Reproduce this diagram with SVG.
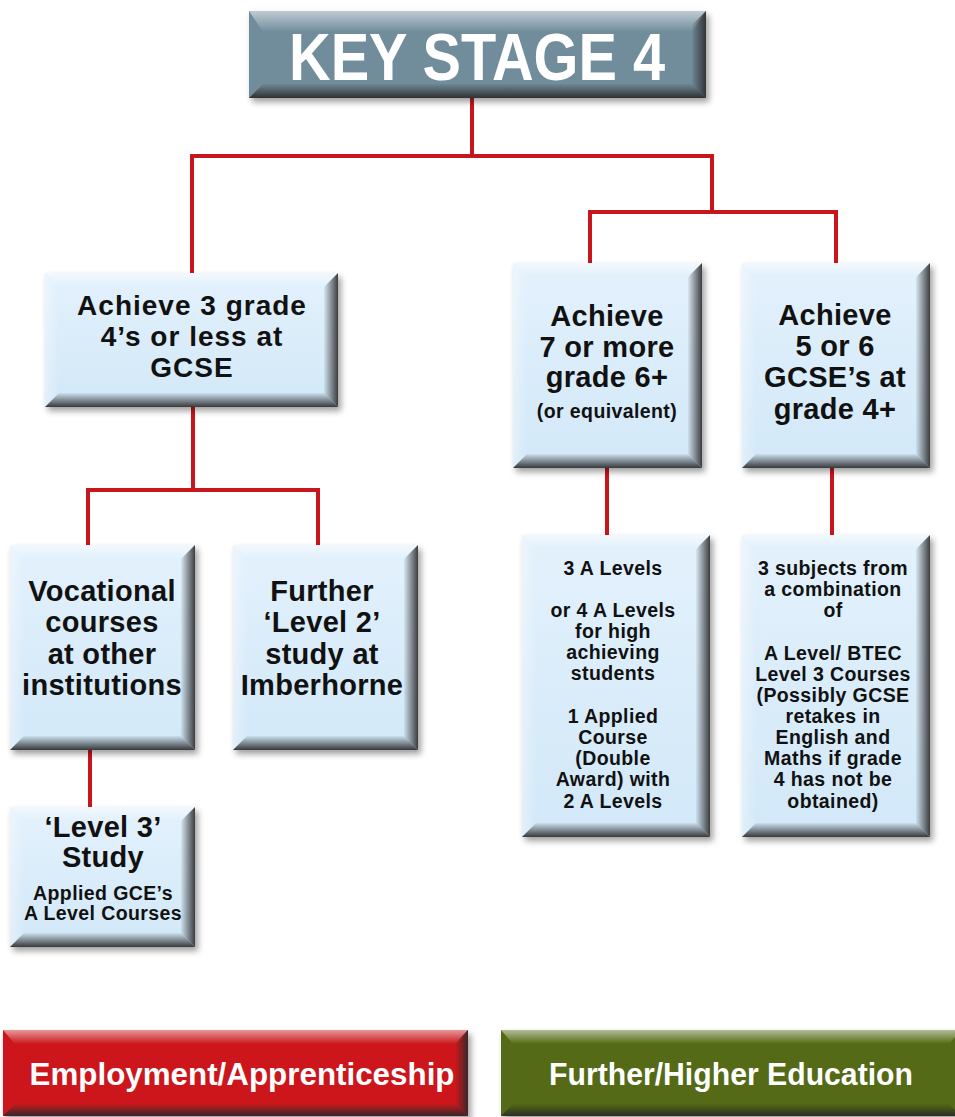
<svg xmlns="http://www.w3.org/2000/svg" width="955" height="1117" viewBox="0 0 955 1117">
<defs>
  <filter id="sh" x="-10%" y="-10%" width="125%" height="130%">
    <feDropShadow dx="3" dy="4" stdDeviation="3" flood-color="#000" flood-opacity="0.38"/>
  </filter>
  <linearGradient id="blue" x1="0" y1="0" x2="0" y2="1">
    <stop offset="0" stop-color="#e3f1fc"/>
    <stop offset="1" stop-color="#d2e8f8"/>
  </linearGradient>
  <linearGradient id="topHi" x1="0" y1="0" x2="0" y2="1">
    <stop offset="0" stop-color="#fff" stop-opacity="0.55"/>
    <stop offset="1" stop-color="#fff" stop-opacity="0"/>
  </linearGradient>
  <linearGradient id="rightSh" x1="0" y1="0" x2="1" y2="0">
    <stop offset="0" stop-color="#2a2a2a" stop-opacity="0.05"/>
    <stop offset="1" stop-color="#2a2a2a" stop-opacity="0.9"/>
  </linearGradient>
  <linearGradient id="botSh" x1="0" y1="0" x2="0" y2="1">
    <stop offset="0" stop-color="#2a2a2a" stop-opacity="0.05"/>
    <stop offset="1" stop-color="#2a2a2a" stop-opacity="0.92"/>
  </linearGradient>
  <linearGradient id="leftHi" x1="1" y1="0" x2="0" y2="0">
    <stop offset="0" stop-color="#fff" stop-opacity="0"/>
    <stop offset="1" stop-color="#fff" stop-opacity="0.35"/>
  </linearGradient>
</defs>
<style>
  .body{fill:url(#blue)}
  .top{fill:url(#topHi)}
  .right{fill:url(#rightSh)}
  .bot{fill:url(#botSh)}
  .left{fill:url(#leftHi)}
  .t{font-family:"Liberation Sans",Arial,sans-serif;font-weight:bold;fill:#111;text-anchor:middle}
  .big{font-size:28px;letter-spacing:1px}
  .mid{font-size:29px;letter-spacing:0.3px}
  .sm{font-size:19.5px;letter-spacing:0.4px}
  .w{fill:#fff}
  .conn{fill:none;stroke:#c8161d;stroke-width:4;stroke-linecap:square}
</style>
<rect width="955" height="1117" fill="#fff"/>

<g id="connectors" class="conn">
  <path d="M472,100 V156 M192,156 H712 M192,156 V272 M712,156 V212 M590,212 H836 M590,212 V263 M836,212 V263"/>
  <path d="M193,407 V490 M88,490 H318 M88,490 V545 M318,490 V545"/>
  <path d="M90,750 V807"/>
  <path d="M607,468 V535 M832,468 V535"/>
</g>

<g id="title">
  <g filter="url(#sh)">
    <rect x="249" y="11" width="457" height="87" fill="#718c9b"/>
    <polygon class="top" points="249,11 706,11 692,32 263,32"/>
    <polygon class="right" points="706,11 706,98 692,84 692,25"/>
    <polygon class="bot" points="249,98 706,98 692,84 263,84"/>
  </g>
  <text class="t w" x="477" y="80" font-size="66" textLength="376" lengthAdjust="spacingAndGlyphs">KEY STAGE 4</text>
</g>

<g id="n-low">
  <g filter="url(#sh)">
    <rect class="body" x="45" y="273" width="293" height="134"/>
    <polygon class="top" points="45,273 338,273 324,287 59,287"/>
    <polygon class="left" points="45,273 59,287 59,393 45,407"/>
    <polygon class="right" points="338,273 338,407 324,393 324,287"/>
    <polygon class="bot" points="45,407 338,407 324,393 59,393"/>
  </g>
  <text class="t big" x="192" y="315">Achieve 3 grade</text>
  <text class="t big" x="192" y="346">4’s or less at</text>
  <text class="t big" x="192" y="377">GCSE</text>
</g>

<g id="n-high">
  <g filter="url(#sh)">
    <rect class="body" x="513" y="263" width="189" height="205"/>
    <polygon class="top" points="513,263 702,263 688,277 527,277"/>
    <polygon class="left" points="513,263 527,277 527,454 513,468"/>
    <polygon class="right" points="702,263 702,468 688,454 688,277"/>
    <polygon class="bot" points="513,468 702,468 688,454 527,454"/>
  </g>
  <text class="t mid" x="607" y="326">Achieve</text>
  <text class="t mid" x="607" y="357">7 or more</text>
  <text class="t mid" x="607" y="387">grade 6+</text>
  <text class="t sm" x="607" y="418">(or equivalent)</text>
</g>

<g id="n-mid">
  <g filter="url(#sh)">
    <rect class="body" x="742" y="263" width="188" height="205"/>
    <polygon class="top" points="742,263 930,263 916,277 756,277"/>
    <polygon class="left" points="742,263 756,277 756,454 742,468"/>
    <polygon class="right" points="930,263 930,468 916,454 916,277"/>
    <polygon class="bot" points="742,468 930,468 916,454 756,454"/>
  </g>
  <text class="t mid" x="835" y="325">Achieve</text>
  <text class="t mid" x="835" y="356">5 or 6</text>
  <text class="t mid" x="835" y="387">GCSE’s at</text>
  <text class="t mid" x="835" y="419">grade 4+</text>
</g>

<g id="n-voc">
  <g filter="url(#sh)">
    <rect class="body" x="10" y="545" width="185" height="205"/>
    <polygon class="top" points="10,545 195,545 181,559 24,559"/>
    <polygon class="left" points="10,545 24,559 24,736 10,750"/>
    <polygon class="right" points="195,545 195,750 181,736 181,559"/>
    <polygon class="bot" points="10,750 195,750 181,736 24,736"/>
  </g>
  <text class="t mid" x="102" y="601">Vocational</text>
  <text class="t mid" x="102" y="632">courses</text>
  <text class="t mid" x="102" y="664">at other</text>
  <text class="t mid" x="102" y="695">institutions</text>
</g>

<g id="n-further">
  <g filter="url(#sh)">
    <rect class="body" x="233" y="545" width="185" height="205"/>
    <polygon class="top" points="233,545 418,545 404,559 247,559"/>
    <polygon class="left" points="233,545 247,559 247,736 233,750"/>
    <polygon class="right" points="418,545 418,750 404,736 404,559"/>
    <polygon class="bot" points="233,750 418,750 404,736 247,736"/>
  </g>
  <text class="t mid" x="322" y="601">Further</text>
  <text class="t mid" x="322" y="632">‘Level 2’</text>
  <text class="t mid" x="322" y="664">study at</text>
  <text class="t mid" x="322" y="695">Imberhorne</text>
</g>

<g id="n-level3">
  <g filter="url(#sh)">
    <rect class="body" x="10" y="807" width="185" height="140"/>
    <polygon class="top" points="10,807 195,807 181,821 24,821"/>
    <polygon class="left" points="10,807 24,821 24,933 10,947"/>
    <polygon class="right" points="195,807 195,947 181,933 181,821"/>
    <polygon class="bot" points="10,947 195,947 181,933 24,933"/>
  </g>
  <text class="t mid" x="103" y="837">‘Level 3’</text>
  <text class="t mid" x="103" y="867">Study</text>
  <text class="t sm" x="103" y="900">Applied GCE’s</text>
  <text class="t sm" x="103" y="920">A Level Courses</text>
</g>

<g id="n-alevels">
  <g filter="url(#sh)">
    <rect class="body" x="522" y="535" width="188" height="302"/>
    <polygon class="top" points="522,535 710,535 696,549 536,549"/>
    <polygon class="left" points="522,535 536,549 536,823 522,837"/>
    <polygon class="right" points="710,535 710,837 696,823 696,549"/>
    <polygon class="bot" points="522,837 710,837 696,823 536,823"/>
  </g>
  <text class="t sm" x="613" y="575">3 A Levels</text>
  <text class="t sm" x="613" y="617">or 4 A Levels</text>
  <text class="t sm" x="613" y="638">for high</text>
  <text class="t sm" x="613" y="659">achieving</text>
  <text class="t sm" x="613" y="680">students</text>
  <text class="t sm" x="613" y="723">1 Applied</text>
  <text class="t sm" x="613" y="744">Course</text>
  <text class="t sm" x="613" y="765">(Double</text>
  <text class="t sm" x="613" y="786">Award) with</text>
  <text class="t sm" x="613" y="808">2 A Levels</text>
</g>

<g id="n-combo">
  <g filter="url(#sh)">
    <rect class="body" x="742" y="535" width="188" height="302"/>
    <polygon class="top" points="742,535 930,535 916,549 756,549"/>
    <polygon class="left" points="742,535 756,549 756,823 742,837"/>
    <polygon class="right" points="930,535 930,837 916,823 916,549"/>
    <polygon class="bot" points="742,837 930,837 916,823 756,823"/>
  </g>
  <text class="t sm" x="833" y="575">3 subjects from</text>
  <text class="t sm" x="833" y="596">a combination</text>
  <text class="t sm" x="833" y="617">of</text>
  <text class="t sm" x="833" y="660">A Level/ BTEC</text>
  <text class="t sm" x="833" y="681">Level 3 Courses</text>
  <text class="t sm" x="833" y="702">(Possibly GCSE</text>
  <text class="t sm" x="833" y="723">retakes in</text>
  <text class="t sm" x="833" y="744">English and</text>
  <text class="t sm" x="833" y="765">Maths if grade</text>
  <text class="t sm" x="833" y="786">4 has not be</text>
  <text class="t sm" x="833" y="808">obtained)</text>
</g>

<g id="employment">
  <g filter="url(#sh)">
    <rect x="3" y="1030" width="465" height="86" fill="#cc181d"/>
    <polygon class="top" points="3,1030 468,1030 456,1044 15,1044"/>
    <polygon class="right" points="468,1030 468,1116 456,1104 456,1042"/>
    <polygon class="bot" points="3,1116 468,1116 456,1104 15,1104"/>
  </g>
  <text class="t w" x="242" y="1085" font-size="31" textLength="425" lengthAdjust="spacingAndGlyphs">Employment/Apprenticeship</text>
</g>

<g id="education">
  <g filter="url(#sh)">
    <rect x="501" y="1030" width="460" height="86" fill="#546b13"/>
    <polygon class="top" points="501,1030 961,1030 949,1044 513,1044"/>
    <polygon class="bot" points="501,1116 961,1116 949,1104 513,1104"/>
  </g>
  <text class="t w" x="731" y="1085" font-size="31" textLength="364" lengthAdjust="spacingAndGlyphs">Further/Higher Education</text>
</g>
</svg>
